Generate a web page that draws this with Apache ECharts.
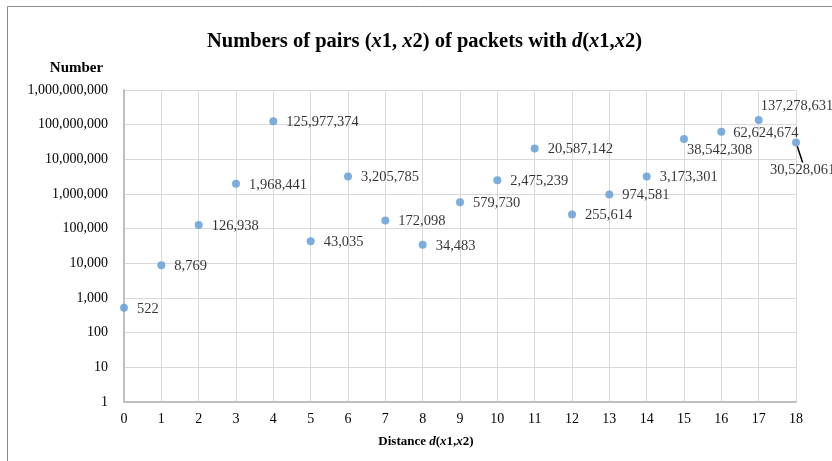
<!DOCTYPE html>
<html><head><meta charset="utf-8">
<script src="https://cdn.jsdelivr.net/npm/echarts@6/dist/echarts.min.js"></script>
<style>html,body{margin:0;padding:0;background:#fff}#c{width:832px;height:461px}</style>
</head><body><div id="c"></div>
<script>
var distances = [0,1,2,3,4,5,6,7,8,9,10,11,12,13,14,15,16,17,18];
var counts = [522, 8769, 126938, 1968441, 125977374, 43035, 3205785, 172098, 34483, 579730, 2475239, 20587142, 255614, 974581, 3173301, 38542308, 62624674, 137278631, 30528061];
var yTicks = [1,10,100,1000,10000,100000,1000000,10000000,100000000,1000000000];

function fmt(v){ return Math.round(v).toString().replace(/\B(?=(\d{3})+(?!\d))/g, ','); }

var FONT = '"Liberation Serif","Times New Roman",serif';
var data = distances.map(function(d,i){
  var item = {value:[d, counts[i]]};
  if (d === 18) item.labelLine = {show:true};
  return item;
});

var chart = echarts.init(document.getElementById('c'));
chart.setOption({
  animation:false,
  graphic:[{type:'rect', shape:{x:7.5,y:6.5,width:900,height:500}, style:{fill:'none', stroke:'#8c8c8c', lineWidth:1}, silent:true}],
  title:[{
    text:'{b|Numbers of pairs (}{i|x}{b|1, }{i|x}{b|2) of packets with }{i|d}{b|(}{i|x}{b|1,}{i|x}{b|2)}',
    left:419.5, top:26, textAlign:'center',
    textStyle:{rich:{
      b:{fontFamily:FONT, fontWeight:'bold', fontSize:20.5, color:'#000'},
      i:{fontFamily:FONT, fontWeight:'bold', fontStyle:'italic', fontSize:20.5, color:'#000'}
    }}
  },{
    text:'Number', left:71.5, top:56, textAlign:'center',
    textStyle:{fontFamily:FONT, fontWeight:'bold', fontSize:15, color:'#000'}
  },{
    text:'{b|Distance }{i|d}{b|(}{i|x}{b|1,}{i|x}{b|2)}', left:421, top:430, textAlign:'center',
    textStyle:{rich:{
      b:{fontFamily:FONT, fontWeight:'bold', fontSize:13, color:'#000'},
      i:{fontFamily:FONT, fontWeight:'bold', fontStyle:'italic', fontSize:13, color:'#000'}
    }}
  }],
  grid:{left:124, right:36, top:90, bottom:59, containLabel:false},
  xAxis:{type:'value', min:0, max:18, interval:1,
    axisLine:{show:true, lineStyle:{color:'#bfbfbf', width:2}},
    axisTick:{show:false},
    axisLabel:{fontFamily:FONT, fontSize:14, color:'#000', margin:10},
    splitLine:{show:true, lineStyle:{color:'#d9d9d9', width:1}}
  },
  yAxis:{type:'log', logBase:10, min:1, max:1000000000,
    axisLine:{show:true, lineStyle:{color:'#bfbfbf', width:2}},
    axisTick:{show:false},
    axisLabel:{fontFamily:FONT, fontSize:14, color:'#000', margin:16, formatter:function(v){return fmt(v);}},
    splitLine:{show:true, lineStyle:{color:'#d9d9d9', width:1}}
  },
  series:[{
    type:'scatter', symbolSize:8, data:data,
    itemStyle:{color:'#5b9bd5'},
    label:{show:true, position:'right', distance:9, offset:[0,2], fontFamily:FONT, fontSize:14.5, color:'#000',
      formatter:function(p){return fmt(p.value[1]);}},
    labelLine:{show:false, lineStyle:{color:'#000', width:1.5}},
    labelLayout:function(p){
      if (p.dataIndex === 18) { return {x: p.rect.x - 22, y: p.rect.y + 24, align:'left'}; }
      if (p.dataIndex === 17) { return {dx: -11, dy: -14}; }
      if (p.dataIndex === 15) { return {dx: -10, dy: 11}; }
      if (p.dataIndex === 16) { return {dx: -1, dy: 1}; }
      return {dy: 1};
    }
  }]
});
</script></body></html>
